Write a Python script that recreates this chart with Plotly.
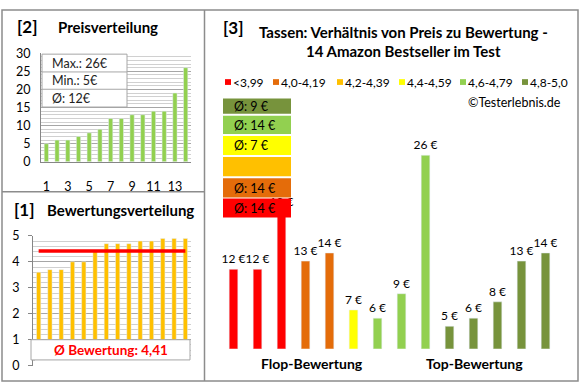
import bisect
import plotly.graph_objects as go

# ---------------- data ----------------
ratings = [3.6, 3.7, 3.7, 4.0, 4.0, 4.4, 4.7, 4.7, 4.7, 4.8, 4.8, 4.9, 4.9, 4.9]
prices = [12, 12, 19, 13, 14, 7, 6, 9, 26, 5, 6, 8, 13, 14]
positions = list(range(1, 15))
price_tick_vals = [1, 3, 5, 7, 9, 11, 13]
class_labels = ["<3,99", "4,0-4,19", "4,2-4,39", "4,4-4,59", "4,6-4,79", "4,8-5,0"]
class_bounds = [4.0, 4.2, 4.4, 4.6, 4.8]
class_colors = ["#FF0000", "#E46C0A", "#FFC000", "#FFFF00", "#92D050", "#77933C"]
group_labels = ["Flop-Bewertung", "Top-Bewertung"]

# ---------------- helpers ----------------
W, H = 580, 390
FONT = "Lato"
FRAME = "#8C8C8C"


def X(px):
    return px / W


def Y(py):
    return 1 - py / H


def rnd(v):
    return int(v + 0.5)


sorted_prices = sorted(prices)
avg_rating = sum(ratings) / len(ratings)
avg_price = sum(prices) / len(prices)
classes = [bisect.bisect_right(class_bounds, r) for r in ratings]
bar_colors = [class_colors[c] for c in classes]

fig = go.Figure()

# panel [2] price distribution
fig.add_trace(go.Bar(x=positions, y=sorted_prices, marker_color="#92D050", width=0.4,
                     xaxis="x", yaxis="y", showlegend=False))
# panel [1] rating distribution
fig.add_trace(go.Bar(x=positions, y=ratings, marker_color="#FFC000", width=0.38,
                     xaxis="x2", yaxis="y2", showlegend=False))
fig.add_trace(go.Scatter(x=positions, y=[avg_rating] * len(positions), mode="lines",
                         line=dict(color="#FF0000", width=3.5),
                         xaxis="x2", yaxis="y2", showlegend=False))
# panel [3] price vs rating
fig.add_trace(go.Bar(x=positions, y=prices, marker_color=bar_colors, width=0.36,
                     text=[f"{p} €" for p in prices], textposition="outside",
                     constraintext="none",
                     textfont=dict(family=FONT, size=12, color="#000"),
                     xaxis="x3", yaxis="y3", showlegend=False))

ax_common = dict(fixedrange=True, zeroline=False)
y3_min = 2.25
y3_scale = 8.47  # px per unit

fig.update_layout(
    width=W, height=H, margin=dict(l=0, r=0, t=0, b=0),
    paper_bgcolor="white", plot_bgcolor="white",
    font=dict(family=FONT, size=12, color="#000"),
    xaxis=dict(domain=[X(41), X(191)], range=[0.5, 14.5], anchor="y",
               tickvals=price_tick_vals, showline=True, linecolor="#868686",
               ticks="", showgrid=False, ticklabelstandoff=13,
               tickfont=dict(size=12.5), **ax_common),
    yaxis=dict(domain=[Y(160), Y(47)], range=[0, 30], anchor="x", dtick=5,
               showline=True, linecolor="#868686", gridcolor="#A6A6A6",
               minor=dict(dtick=1, showgrid=True, gridcolor="#D0D0D0"),
               ticks="", ticklabelstandoff=7, tickfont=dict(size=12.5), **ax_common),
    xaxis2=dict(domain=[X(33), X(191)], range=[0.5, 14.5], anchor="y2",
                showticklabels=False, showline=False, showgrid=False, ticks="",
                **ax_common),
    yaxis2=dict(domain=[Y(372), Y(237)], range=[0, 5], anchor="x2", dtick=1,
                showline=True, linecolor="#868686", gridcolor="#A6A6A6",
                minor=dict(dtick=0.2, showgrid=True, gridcolor="#D0D0D0"),
                ticks="outside", ticklen=4, tickcolor="#868686",
                ticklabelstandoff=6, tickfont=dict(size=12.5), **ax_common),
    xaxis3=dict(domain=[X(221.5), X(557.5)], range=[0.5, 14.5], anchor="y3",
                visible=False, **ax_common),
    yaxis3=dict(domain=[Y(354.3), Y(100)],
                range=[y3_min, y3_min + (354.3 - 100) / y3_scale], anchor="x3",
                visible=False, **ax_common),
)

shapes = []
annotations = []


def rect(x0, y0, x1, y1, fill="rgba(0,0,0,0)", line=FRAME, lw=1.5):
    shapes.append(dict(type="rect", xref="paper", yref="paper",
                       x0=X(x0), x1=X(x1), y0=Y(y1), y1=Y(y0),
                       fillcolor=fill, line=dict(color=line, width=lw), layer="above"))


def hline(x0, x1, y, color=FRAME, lw=1.5):
    shapes.append(dict(type="line", xref="paper", yref="paper",
                       x0=X(x0), x1=X(x1), y0=Y(y), y1=Y(y),
                       line=dict(color=color, width=lw), layer="above"))


def vline(x, y0, y1, color=FRAME, lw=1.5):
    shapes.append(dict(type="line", xref="paper", yref="paper",
                       x0=X(x), x1=X(x), y0=Y(y0), y1=Y(y1),
                       line=dict(color=color, width=lw), layer="above"))


def text(t, x, y, size=12, bold=False, color="#000", xanchor="left"):
    annotations.append(dict(text=f"<b>{t}</b>" if bold else t, xref="paper", yref="paper",
                            x=X(x), y=Y(y), xanchor=xanchor, yanchor="middle",
                            showarrow=False, font=dict(family=FONT, size=size, color=color)))


# frames
rect(2, 2, 578, 388)
vline(204.5, 2, 388)
hline(2, 204.5, 191)

# panel [2]
text("[2]", 15, 19, size=17, bold=True)
text("Preisverteilung", 56, 20, size=15, bold=True)
rect(42, 48, 127, 103, fill="white", line="#A6A6A6", lw=1)
hline(42, 127, 66.5, color="#A6A6A6", lw=1)
hline(42, 127, 84.5, color="#A6A6A6", lw=1)
text(f"Max.: {max(prices)}€", 50, 57.5, size=12.5, color="#222")
text(f"Min.: {min(prices)}€", 50, 75.5, size=12.5, color="#222")
text(f"Ø: {rnd(avg_price)}€", 50, 94, size=12.5, color="#222")

# panel [1]
text("[1]", 12, 210, size=17, bold=True)
text("Bewertungsverteilung", 45, 210, size=15, bold=True)
# hide the bars below the average box (down to the base line)
rect(35, 365, 192, 374, fill="white", line="white", lw=0)
rect(31, 345, 190, 366, fill="white", line="#A6A6A6", lw=1)
text("Ø Bewertung: " + f"{avg_rating:.2f}".replace(".", ","), 110.5, 355.5,
     size=13.5, bold=True, color="#FF0000", xanchor="center")

# panel [3]
text("[3]", 221, 20, size=17, bold=True)
text("Tassen: Verhältnis von Preis zu Bewertung -", 403, 25, size=15, bold=True,
     xanchor="center")
text("14 Amazon Bestseller im Test", 403, 45, size=15, bold=True, xanchor="center")

legend_x = [225, 273, 337, 399, 460, 522]
for lbl, col, lx in zip(class_labels, class_colors, legend_x):
    rect(lx, 74, lx + 6, 80, fill=col, line=col, lw=0)
    text(lbl, lx + 6, 77.5, size=12)

text("©Testerlebnis.de", 563, 98, size=12.5, xanchor="right")

# stacked class-average boxes (top = best class)
box_rows = [(198, 218), (177, 197), (155, 175), (133, 153), (112, 131), (94, 110)]
for ci, (y0, y1) in enumerate(box_rows):
    col = class_colors[ci]
    rect(223, y0, 291, y1, fill=col, line=col, lw=0)
    vals = [p for p, c in zip(prices, classes) if c == ci]
    if vals:
        text(f"Ø: {rnd(sum(vals) / len(vals))} €", 232, (y0 + y1) / 2 + 0.5, size=12.5)

text(group_labels[0], 312, 370, size=14, bold=True, xanchor="center")
text(group_labels[1], 474, 370, size=14, bold=True, xanchor="center")

fig.update_layout(shapes=shapes, annotations=annotations)
fig.write_html(
    "out.html",
    config={"displayModeBar": False, "responsive": False},
    post_script="document.body.style.margin='0';document.body.style.padding='0';"
                "document.body.style.overflow='hidden';",
)
